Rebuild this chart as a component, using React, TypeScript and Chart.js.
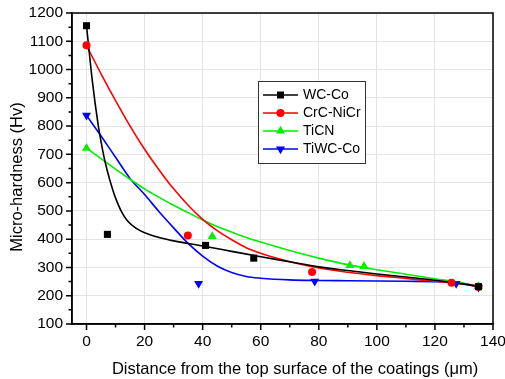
import React, { useEffect, useRef } from 'react';
import { Chart, registerables } from 'chart.js';

Chart.register(...registerables);

// Measured points
const wcCoX = [0, 7.2, 41, 57.6, 135];
const wcCoY = [1155, 417, 378, 333, 232];
const crcX = [0, 34.9, 77.7, 125.7, 135];
const crcY = [1086, 413, 284, 246, 232];
const ticnX = [0, 43.3, 90.7, 95.6, 135];
const ticnY = [722, 410, 307, 304, 233];
const tiwcX = [0, 38.6, 78.6, 127.3, 135];
const tiwcY = [838, 243, 251, 243, 230];

// Fitted curves
const wcCoFitX = [0, 2, 4, 5, 6, 7, 8, 9, 10, 12, 14, 17, 20, 25, 30, 35, 40, 50, 60, 70, 80, 90, 100, 110, 120, 130, 135];
const wcCoFitY = [1155, 960, 805, 745, 692, 648, 610, 576, 546, 498, 466, 439, 423, 406, 394, 385, 376, 357, 338, 320, 302, 289, 277, 266, 255, 241, 233];
const crcFitX = [0, 5, 10, 15, 20, 25, 30, 35, 40, 45, 50, 55, 60, 65, 70, 80, 90, 100, 110, 120, 126, 135];
const crcFitY = [1085, 985, 890, 800, 718, 645, 578, 520, 470, 430, 398, 370, 350, 334, 320, 298, 283, 271, 261, 251, 246, 233];
const ticnFitX = [0, 5, 10, 15, 20, 25, 30, 35, 40, 45, 50, 55, 60, 70, 80, 90, 100, 110, 120, 126, 135];
const ticnFitY = [722, 685, 648, 612, 578, 548, 520, 494, 468, 445, 425, 406, 390, 360, 333, 310, 292, 276, 260, 251, 234];
const tiwcFitX = [0, 5, 10, 15, 20, 25, 30, 35, 40, 45, 50, 55, 60, 70, 80, 90, 100, 110, 120, 126, 135];
const tiwcFitY = [838, 765, 690, 615, 558, 497, 440, 385, 340, 305, 282, 268, 262, 256, 254, 253, 252, 251, 250, 249, 232];

const seriesLabels = ['WC-Co', 'CrC-NiCr', 'TiCN', 'TiWC-Co'];
const seriesColors = ['#000000', '#ff0000', '#00ee00', '#0000ff'];

const xTicks = [0, 20, 40, 60, 80, 100, 120, 140];
const xMinorTicks = [10, 30, 50, 70, 90, 110, 130];
const yTicks = [100, 200, 300, 400, 500, 600, 700, 800, 900, 1000, 1100, 1200];
const yMinorTicks = [150, 250, 350, 450, 550, 650, 750, 850, 950, 1050, 1150];

const xTitle = 'Distance from the top surface of the coatings (\u03bcm)';
const yTitle = 'Micro-hardness (Hv)';

const FONT = "'Liberation Sans', Arial, sans-serif";

const zip = (xs: number[], ys: number[]) => xs.map((x, i) => ({ x, y: ys[i] }));

function drawMarker(ctx: CanvasRenderingContext2D, style: string, x: number, y: number, color: string) {
  ctx.fillStyle = color;
  ctx.beginPath();
  if (style === 'rect') {
    ctx.rect(x - 3.5, y - 3.5, 7, 7);
  } else if (style === 'circle') {
    ctx.arc(x, y, 4, 0, Math.PI * 2);
  } else if (style === 'triangle') {
    ctx.moveTo(x, y - 5.2);
    ctx.lineTo(x + 4.5, y + 2.6);
    ctx.lineTo(x - 4.5, y + 2.6);
    ctx.closePath();
  } else {
    ctx.moveTo(x, y + 5.2);
    ctx.lineTo(x + 4.5, y - 2.6);
    ctx.lineTo(x - 4.5, y - 2.6);
    ctx.closePath();
  }
  ctx.fill();
}

const markerStyles = ['rect', 'circle', 'triangle', 'triangleDown'];

const decorPlugin = {
  id: 'decor',
  afterDatasetsDraw(chart: any) {
    const { ctx, chartArea: a, scales } = chart;
    const xs = scales.x;
    const ys = scales.y;
    ctx.save();
    ctx.strokeStyle = '#000';
    ctx.lineWidth = 1.5;
    ctx.strokeRect(a.left, a.top, a.right - a.left, a.bottom - a.top);
    ctx.beginPath();
    xTicks.forEach((v) => {
      const p = xs.getPixelForValue(v);
      ctx.moveTo(p, a.bottom);
      ctx.lineTo(p, a.bottom + 6);
    });
    xMinorTicks.forEach((v) => {
      const p = xs.getPixelForValue(v);
      ctx.moveTo(p, a.bottom);
      ctx.lineTo(p, a.bottom + 3.5);
    });
    yTicks.forEach((v) => {
      const p = ys.getPixelForValue(v);
      ctx.moveTo(a.left, p);
      ctx.lineTo(a.left - 6, p);
    });
    yMinorTicks.forEach((v) => {
      const p = ys.getPixelForValue(v);
      ctx.moveTo(a.left, p);
      ctx.lineTo(a.left - 3.5, p);
    });
    ctx.stroke();
    ctx.restore();
  },
  afterDraw(chart: any) {
    const { ctx } = chart;
    ctx.save();
    // axis titles
    ctx.fillStyle = '#000';
    ctx.font = `16.5px ${FONT}`;
    ctx.textAlign = 'center';
    ctx.textBaseline = 'middle';
    ctx.fillText(xTitle, 295, 369);
    ctx.save();
    ctx.translate(17, 177);
    ctx.rotate(-Math.PI / 2);
    ctx.fillText(yTitle, 0, 0);
    ctx.restore();
    // legend
    const left = 258, top = 81, w = 107, h = 82;
    ctx.fillStyle = '#ffffff';
    ctx.fillRect(left, top, w, h);
    ctx.strokeStyle = '#333333';
    ctx.lineWidth = 1;
    ctx.strokeRect(left + 0.5, top + 0.5, w, h);
    ctx.font = `14px ${FONT}`;
    ctx.textBaseline = 'middle';
    ctx.textAlign = 'left';
    seriesLabels.forEach((label, i) => {
      const y = 95 + i * 18;
      const color = seriesColors[i];
      ctx.strokeStyle = color;
      ctx.lineWidth = 1.5;
      ctx.beginPath();
      ctx.moveTo(263, y);
      ctx.lineTo(298, y);
      ctx.stroke();
      drawMarker(ctx, markerStyles[i], 280.5, y, color);
      ctx.fillStyle = '#000';
      ctx.fillText(label, 303, y + 0.5);
    });
    ctx.restore();
  },
};

export default function App() {
  const ref = useRef<HTMLCanvasElement | null>(null);
  useEffect(() => {
    if (!ref.current) return;
    const pts = [zip(wcCoX, wcCoY), zip(crcX, crcY), zip(ticnX, ticnY), zip(tiwcX, tiwcY)];
    const fits = [zip(wcCoFitX, wcCoFitY), zip(crcFitX, crcFitY), zip(ticnFitX, ticnFitY), zip(tiwcFitX, tiwcFitY)];
    const datasets: any[] = [];
    fits.forEach((d, i) => {
      datasets.push({
        label: seriesLabels[i] + ' fit',
        data: d,
        showLine: true,
        borderColor: seriesColors[i],
        borderWidth: 1.6,
        pointRadius: 0,
        cubicInterpolationMode: 'monotone',
        order: 2,
      });
    });
    const pStyles: any[] = ['rect', 'circle', 'triangle', 'triangle'];
    const pRadius = [5, 4, 5.2, 5.2];
    const pRot = [0, 0, 0, 180];
    pts.forEach((d, i) => {
      datasets.push({
        label: seriesLabels[i],
        data: d,
        showLine: false,
        backgroundColor: seriesColors[i],
        borderColor: seriesColors[i],
        borderWidth: 0,
        pointStyle: pStyles[i],
        pointRadius: pRadius[i],
        pointRotation: pRot[i],
        order: 1,
      });
    });
    const chart = new Chart(ref.current, {
      type: 'scatter',
      data: { datasets },
      plugins: [decorPlugin],
      options: {
        animation: false,
        responsive: false,
        devicePixelRatio: 1,
        layout: { padding: { top: 13, right: 12, left: 0, bottom: 0 } },
        plugins: { legend: { display: false }, tooltip: { enabled: false } },
        scales: {
          x: {
            type: 'linear',
            min: -5,
            max: 140,
            afterBuildTicks: (scale: any) => {
              scale.ticks = xTicks.map((v) => ({ value: v }));
            },
            afterFit: (scale: any) => {
              scale.height = 55;
              scale.paddingLeft = 0;
              scale.paddingRight = 0;
            },
            ticks: {
              autoSkip: false,
              maxRotation: 0,
              padding: 8.5,
              color: '#000',
              font: { family: FONT, size: 15.5 },
              callback: (v: any) => String(v),
            },
            grid: { color: '#e4e4e4', lineWidth: 1, drawTicks: false },
            border: { display: true, color: '#000', width: 1.5 },
            title: { display: false },
          },
          y: {
            type: 'linear',
            min: 100,
            max: 1200,
            afterBuildTicks: (scale: any) => {
              scale.ticks = yTicks.map((v) => ({ value: v }));
            },
            afterFit: (scale: any) => {
              scale.width = 72;
              scale.paddingTop = 0;
              scale.paddingBottom = 0;
            },
            ticks: {
              autoSkip: false,
              padding: 9,
              color: '#000',
              font: { family: FONT, size: 15.5 },
              callback: (v: any) => String(v),
            },
            grid: { color: '#e4e4e4', lineWidth: 1, drawTicks: false },
            border: { display: true, color: '#000', width: 1.5 },
            title: { display: false },
          },
        },
      },
    });
    return () => chart.destroy();
  }, []);
  return (
    <div style={{ position: 'absolute', left: 0, top: 0, width: 505, height: 379, background: '#fff' }}>
      <canvas ref={ref} width={505} height={379} style={{ display: 'block' }} />
    </div>
  );
}
